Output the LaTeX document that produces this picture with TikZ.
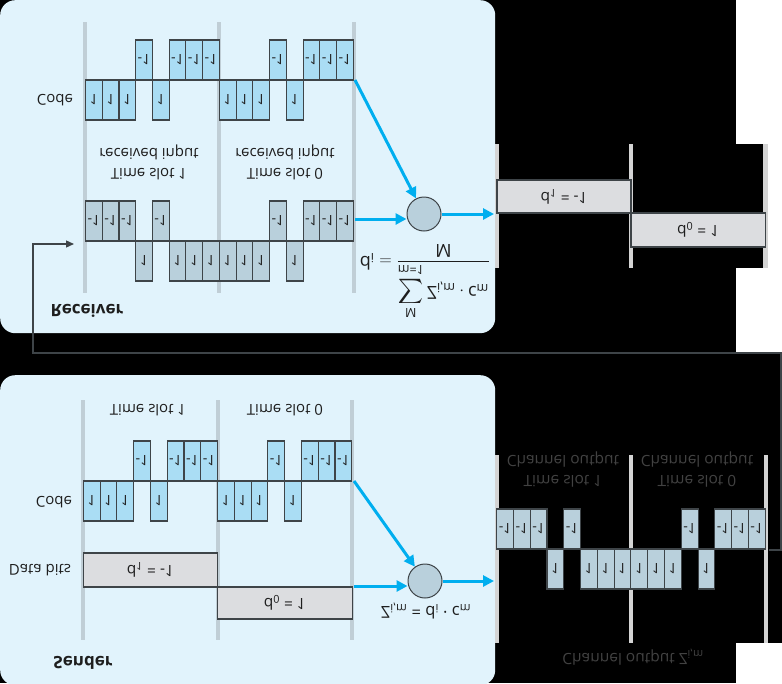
\documentclass[tikz,border=0pt]{standalone}
\usepackage{amsmath}
\usepackage{fontspec}
\setmainfont{Open Sans}
\usetikzlibrary{arrows.meta}
\definecolor{panelblue}{RGB}{225,243,252}
\definecolor{codefill}{RGB}{170,221,244}
\definecolor{recvfill}{RGB}{185,208,220}
\definecolor{datafill}{RGB}{220,221,224}
\definecolor{panelbar}{RGB}{192,206,214}
\definecolor{darkbar}{RGB}{212,212,212}
\definecolor{edgegray}{RGB}{62,68,72}
\definecolor{arrowblue}{RGB}{0,174,239}
\definecolor{inktext}{RGB}{30,30,30}
\definecolor{dimtext}{RGB}{66,66,66}
\newcommand\SigRow[6]{%
  \foreach \v [count=\k from 0] in {#6}{%
    \pgfmathsetmacro\xc{#2+(\k+0.5)*#3}%
    \ifnum\v>0
      \node[sigbox,#5,minimum width=#3 pt] (#1\k) at (\xc,#4+20) {1};
    \else
      \node[sigbox,#5,minimum width=#3 pt] (#1\k) at (\xc,#4-20) {-1};
    \fi
  }}
\begin{document}
\begin{tikzpicture}[x=1pt,y=-1pt,
  panelbox/.style={fill=panelblue, rounded corners=15pt, inner sep=0pt, anchor=north west},
  sigbox/.style={draw=edgegray, line width=1.1pt, minimum height=40pt, inner sep=0pt, yscale=-1, text=inktext, font=\fontsize{14.2}{15}\selectfont},
  databox/.style={draw=edgegray, fill=datafill, line width=1.1pt, inner sep=0pt, yscale=-1, text=inktext, font=\fontsize{15.5}{17}\selectfont},
  sumcirc/.style={circle, minimum size=34pt, inner sep=0pt, fill=recvfill, draw=edgegray, line width=1pt},
  lbl/.style={yscale=-1, text=inktext, align=center, font=\fontsize{15}{20}\selectfont},
  dimlbl/.style={yscale=-1, text=dimtext, align=center, font=\fontsize{15.5}{20}\selectfont},
  ttl/.style={yscale=-1, text=inktext, font=\fontsize{17}{19}\selectfont\bfseries},
  pbar/.style={draw=panelbar, line width=4pt},
  dbar/.style={draw=darkbar, line width=4.5pt},
  bluearrow/.style={draw=arrowblue, line width=3pt, -{Triangle[length=11pt,width=11pt]}},
  conn/.style={draw=edgegray, line width=1.3pt, -{Triangle[length=8pt,width=7pt]}}
]
\useasboundingbox (0,0) rectangle (782,683);
% background
\fill[black] (0,0) rectangle (782,683);
\fill[white] (736,0) rectangle (782,144);
\fill[white] (768,144) rectangle (782,268);
\fill[white] (736,268) rectangle (782,353);
\fill[white] (736,643) rectangle (782,683);
% panels
\node[panelbox, minimum width=495pt, minimum height=333pt] (recvpanel) at (0,0) {};
\node[panelbox, minimum width=495pt, minimum height=310pt] (sendpanel) at (0,375) {};
% bars
\foreach \x in {84.5,219,353.5} \draw[pbar] (\x,22) -- (\x,293);
\foreach \x in {83,217.5,352} \draw[pbar] (\x,400) -- (\x,640);
\foreach \x in {497,631,765.5} \draw[dbar] (\x,144) -- (\x,268);
\foreach \x in {497,631,766} \draw[dbar] (\x,455) -- (\x,643);
% receiver signals
\SigRow{rc}{85.5}{16.74}{80}{fill=codefill}{1,1,1,-1,1,-1,-1,-1,1,1,1,-1,1,-1,-1,-1}
\SigRow{rr}{85.5}{16.74}{241}{fill=recvfill}{-1,-1,-1,1,-1,1,1,1,1,1,1,-1,1,-1,-1,-1}
% sender signals
\SigRow{sc}{83.3}{16.78}{481}{fill=codefill}{1,1,1,-1,1,-1,-1,-1,1,1,1,-1,1,-1,-1,-1}
\SigRow{ch}{496.7}{16.78}{549}{fill=recvfill}{-1,-1,-1,1,-1,1,1,1,1,1,1,-1,1,-1,-1,-1}
% data bits
\node[databox, minimum width=134.2pt, minimum height=34pt] (sd1) at (150.4,570) {d\textsubscript{1} = -1};
\node[databox, minimum width=134.5pt, minimum height=32pt] (sd0) at (284.8,603) {d\textsubscript{0} = 1};
% receiver output
\node[databox, minimum width=134pt, minimum height=33pt] (rd1) at (564,196.5) {d\textsubscript{1} = -1};
\node[databox, minimum width=134.5pt, minimum height=34pt] (rd0) at (698.2,230) {d\textsubscript{0} = 1};
% sum circles
\node[sumcirc] (rsum) at (424,214) {};
\node[sumcirc] (ssum) at (425,581) {};
% labels receiver
\node[lbl] (rcode) at (55,100) {Code};
\node[lbl] (rts1) at (149,162) {Time slot 1\\received input};
\node[lbl] (rts0) at (285,162) {Time slot 0\\received input};
\node[ttl] (rtitle) at (87,311) {Receiver};
\node[yscale=-1, text=inktext, font=\fontsize{18}{20}\selectfont, inner sep=0pt] (rform) at (425,282)
  {$\text{d}_{\text{i}} = \dfrac{\displaystyle\sum_{\text{m=1}}^{\text{M}} \text{Z}_{\text{i,m}}\cdot \text{c}_{\text{m}}}{\text{M}}$};
% labels sender
\node[lbl] (sts1) at (148,410) {Time slot 1};
\node[lbl] (sts0) at (285,410) {Time slot 0};
\node[lbl] (scode) at (54,502) {Code};
\node[lbl] (sdata) at (40,570) {Data bits};
\node[ttl] (stitle) at (83,663) {Sender};
\node[yscale=-1, text=inktext, font=\fontsize{16.5}{18}\selectfont] (sform) at (426,611)
  {Z\textsubscript{i,m} = d\textsubscript{i} · c\textsubscript{m}};
% channel labels
\node[dimlbl] (cts1) at (563,470) {Time slot 1\\Channel output};
\node[dimlbl] (cts0) at (697,470) {Time slot 0\\Channel output};
\node[dimlbl] (ctitle) at (633,657) {Channel output Z\textsubscript{i,m}};
% arrows receiver
\coordinate (rcend) at (355,80);
\coordinate (rrend) at (355,219);
\coordinate (rout) at (494,214);
\draw[bluearrow] (rcend) -- (rsum);
\draw[bluearrow] (rrend) -- (rsum.west |- rrend);
\draw[bluearrow] (rsum.east) -- (rout);
% arrows sender
\coordinate (scend) at (354,481);
\coordinate (sdend) at (354,586);
\coordinate (sout) at (494,581);
\draw[bluearrow] (scend) -- (ssum);
\draw[bluearrow] (sdend) -- (ssum.west |- sdend);
\draw[bluearrow] (ssum.east) -- (sout);
% feedback connector
\coordinate (chout) at (769,550);
\coordinate (cornerA) at (781,353);
\coordinate (cornerB) at (33,353);
\coordinate (recvin) at (74,244);
\draw[conn] (chout) -| (cornerA) -- (cornerB) |- (recvin);
\end{tikzpicture}
\end{document}
